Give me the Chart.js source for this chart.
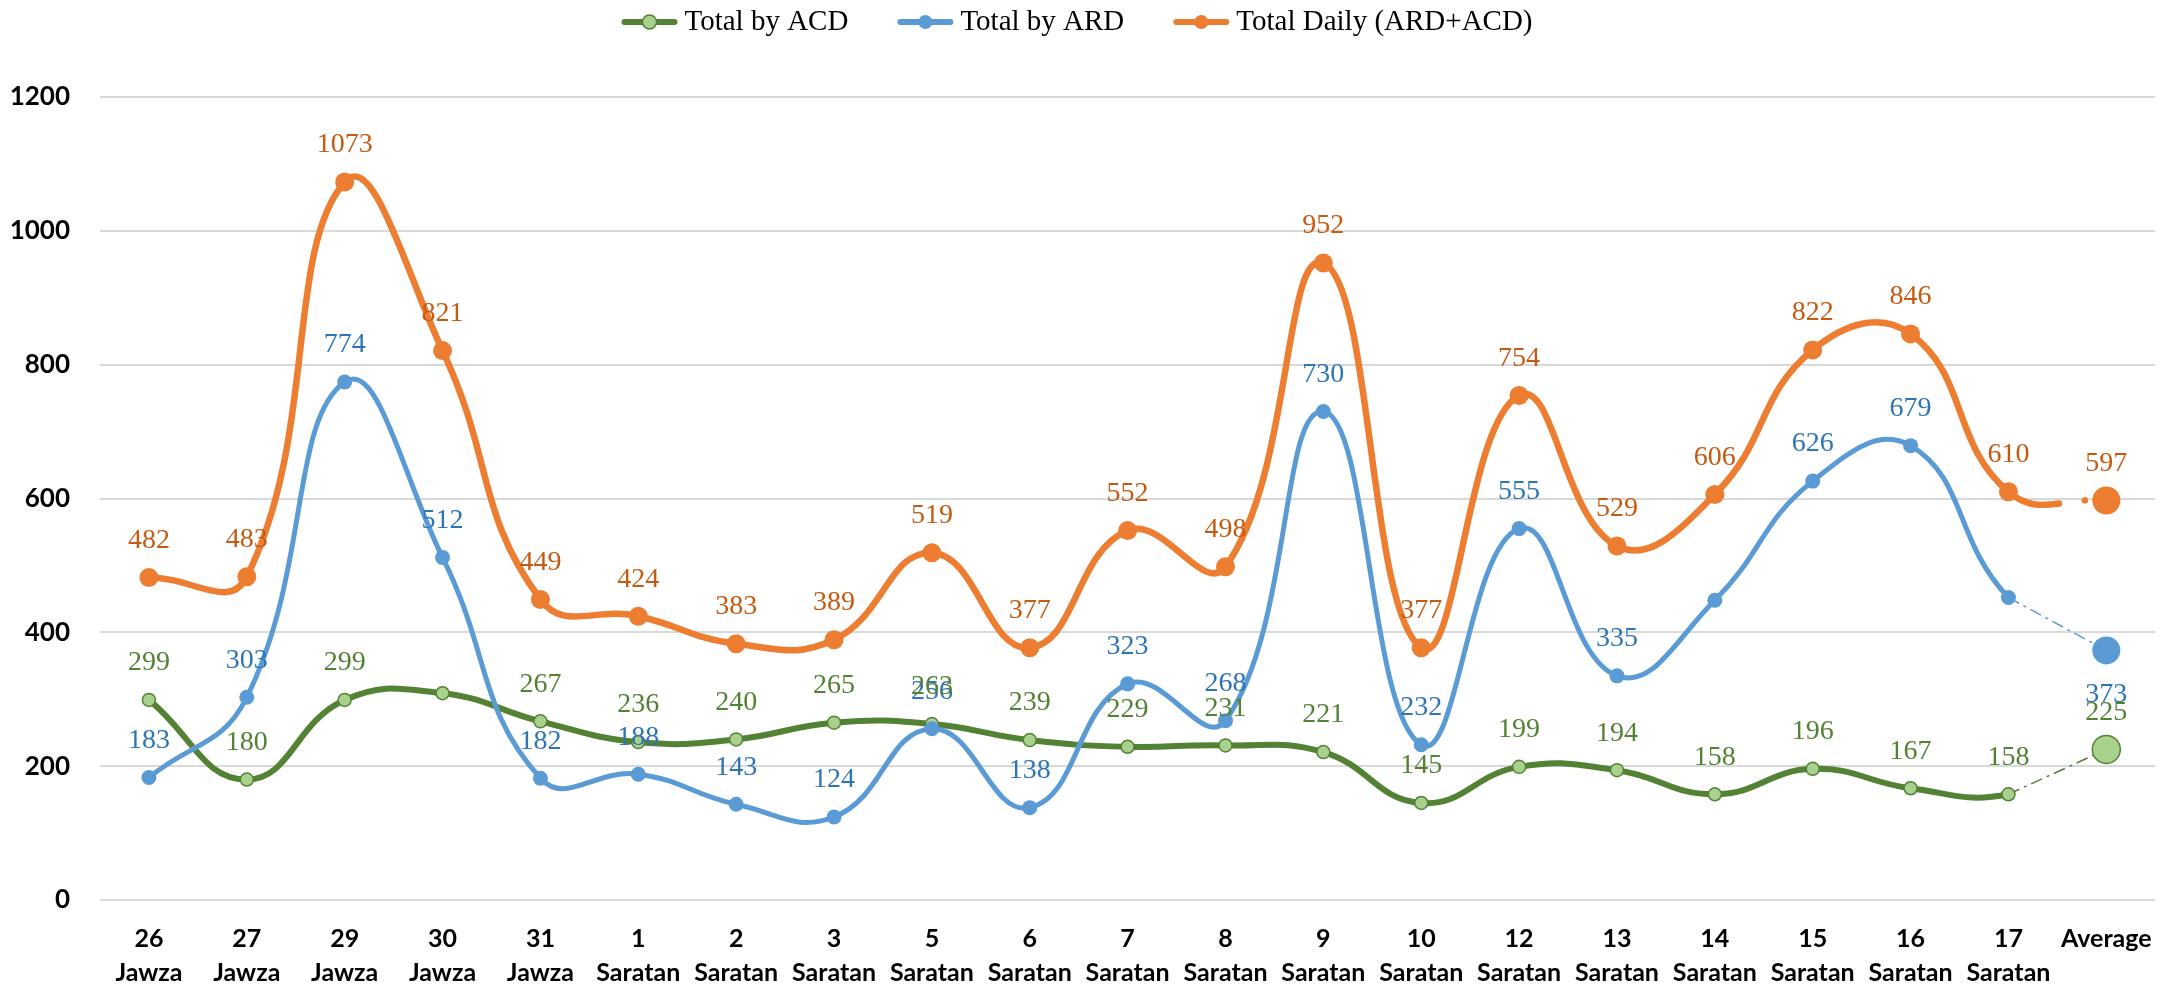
<!DOCTYPE html>
<html>
<head>
<meta charset="utf-8">
<script src="https://cdn.jsdelivr.net/npm/chart.js@4.4.0/dist/chart.umd.min.js"></script>
<style>
  html, body { margin: 0; padding: 0; background: #ffffff; }
  #wrap { width: 2174px; height: 985px; }
</style>
</head>
<body>
<div id="wrap"><canvas id="chart" width="2174" height="985"></canvas></div>
<script>
// categories (two-line tick labels)
const days = [
  ['26', 'Jawza'], ['27', 'Jawza'], ['29', 'Jawza'], ['30', 'Jawza'], ['31', 'Jawza'],
  ['1', 'Saratan'], ['2', 'Saratan'], ['3', 'Saratan'], ['5', 'Saratan'], ['6', 'Saratan'],
  ['7', 'Saratan'], ['8', 'Saratan'], ['9', 'Saratan'], ['10', 'Saratan'], ['12', 'Saratan'],
  ['13', 'Saratan'], ['14', 'Saratan'], ['15', 'Saratan'], ['16', 'Saratan'], ['17', 'Saratan'],
  ['Average']
];

// series values
const acd = [299, 180, 299, 309, 267, 236, 240, 265, 263, 239, 229, 231, 221, 145, 199, 194, 158, 196, 167, 158, 225];
const ard = [183, 303, 774, 512, 182, 188, 143, 124, 256, 138, 323, 268, 730, 232, 555, 335, 448, 626, 679, 452, 373];
const total = [482, 483, 1073, 821, 449, 424, 383, 389, 519, 377, 552, 498, 952, 377, 754, 529, 606, 822, 846, 610, 597];

// y axis ticks
const yTicks = [0, 200, 400, 600, 800, 1000, 1200];

// labels not shown in the original
const acdHidden = [3];
const ardHidden = [16, 19];

const GREEN = '#548235', GREEN_FILL = '#A9D18E';
const BLUE = '#5B9BD5', BLUE_TEXT = '#2E75B6';
const ORANGE = '#ED7D31', ORANGE_TEXT = '#C55A11';
const SERIF = '"Liberation Serif", "Times New Roman", serif';

const last = days.length - 1;

// only keep the last two points -> thin link to the average
function linkTo(values) {
  return values.map((v, i) => (i >= last - 1 ? v : null));
}

// draws the value above (or below) each point
const valueLabels = {
  id: 'valueLabels',
  afterDatasetsDraw(chart) {
    const ctx = chart.ctx;
    ctx.save();
    ctx.font = '28px ' + SERIF;
    ctx.textAlign = 'center';
    ctx.textBaseline = 'middle';
    chart.data.datasets.forEach((ds, di) => {
      if (!ds.labelColor) return;
      const meta = chart.getDatasetMeta(di);
      meta.data.forEach((pt, i) => {
        if (ds.data[i] == null || ds.hiddenLabels.includes(i)) return;
        const below = ds.below.includes(i);
        ctx.fillStyle = ds.labelColor;
        ctx.fillText(String(ds.data[i]), pt.x, pt.y + (below ? 44 : -37));
      });
    });
    ctx.restore();
  }
};

// legend row at the top: line + marker, then the series name
const topLegend = {
  id: 'topLegend',
  afterDraw(chart) {
    const ctx = chart.ctx;
    const items = ['acd', 'ard', 'total'].map((k) => chart.data.datasets.find((d) => d.key === k));
    const markW = 56, textGap = 7, itemGap = 49, y = 22;
    ctx.save();
    ctx.font = '29px ' + SERIF;
    const widths = items.map((ds) => markW + textGap + ctx.measureText(ds.label).width);
    const full = widths.reduce((a, b) => a + b, 0) + itemGap * (items.length - 1);
    let x = chart.width / 2 - 10 - full / 2;
    items.forEach((ds, i) => {
      ctx.strokeStyle = ds.borderColor;
      ctx.lineWidth = 6;
      ctx.lineCap = 'round';
      ctx.beginPath(); ctx.moveTo(x + 3, y); ctx.lineTo(x + markW - 3, y); ctx.stroke();
      ctx.beginPath(); ctx.arc(x + markW / 2, y, 7, 0, Math.PI * 2);
      ctx.fillStyle = ds.pointBackgroundColor; ctx.fill();
      if (ds.pointBorderWidth) { ctx.lineWidth = 1.5; ctx.strokeStyle = ds.pointBorderColor; ctx.stroke(); }
      ctx.fillStyle = '#000000';
      ctx.textAlign = 'left';
      ctx.textBaseline = 'middle';
      ctx.fillText(ds.label, x + markW + textGap, y);
      x += widths[i] + itemGap;
    });
    ctx.restore();
  }
};

const bigAt = (small, big) => (c) => (c.dataIndex === last ? big : small);

const chart = new Chart(document.getElementById('chart'), {
  type: 'line',
  data: {
    labels: days,
    datasets: [
      {
        key: 'total',
        label: 'Total Daily (ARD+ACD)',
        data: total,
        borderColor: ORANGE,
        backgroundColor: ORANGE,
        borderWidth: 6.5,
        pointRadius: bigAt(9.5, 14),
        pointBorderWidth: 0,
        pointBackgroundColor: ORANGE,
        tension: 0.45,
        segment: {
          borderDash: (c) => (c.p1DataIndex === last ? [54, 26, 0.1, 40] : undefined),
          borderCapStyle: (c) => (c.p1DataIndex === last ? 'round' : undefined)
        },
        labelColor: ORANGE_TEXT,
        hiddenLabels: [],
        below: []
      },
      {
        key: 'ard',
        label: 'Total by ARD',
        data: ard,
        borderColor: BLUE,
        backgroundColor: BLUE,
        borderWidth: 5,
        pointRadius: bigAt(7.5, 14),
        pointBorderWidth: 0,
        pointBackgroundColor: BLUE,
        tension: 0.45,
        segment: {
          borderColor: (c) => (c.p1DataIndex === last ? 'rgba(0,0,0,0)' : undefined)
        },
        labelColor: BLUE_TEXT,
        hiddenLabels: ardHidden,
        below: [last]
      },
      {
        key: 'acd',
        label: 'Total by ACD',
        data: acd,
        borderColor: GREEN,
        backgroundColor: GREEN_FILL,
        borderWidth: 6,
        pointRadius: bigAt(6.5, 14),
        pointBorderWidth: 1.5,
        pointBorderColor: GREEN,
        pointBackgroundColor: GREEN_FILL,
        tension: 0.45,
        segment: {
          borderColor: (c) => (c.p1DataIndex === last ? 'rgba(0,0,0,0)' : undefined)
        },
        labelColor: GREEN,
        hiddenLabels: acdHidden,
        below: []
      },
      {
        key: 'link',
        label: 'ard link',
        data: linkTo(ard),
        borderColor: BLUE,
        borderWidth: 1.5,
        borderDash: [12, 5, 3, 5],
        pointRadius: 0,
        tension: 0
      },
      {
        key: 'link',
        label: 'acd link',
        data: linkTo(acd),
        borderColor: GREEN,
        borderWidth: 1.5,
        borderDash: [12, 5, 3, 5],
        pointRadius: 0,
        tension: 0
      }
    ]
  },
  options: {
    responsive: false,
    animation: false,
    devicePixelRatio: 1,
    layout: { padding: { top: 97, right: 0, left: 0, bottom: 0 } },
    plugins: {
      tooltip: { enabled: false },
      legend: { display: false }
    },
    scales: {
      x: {
        offset: true,
        grid: { display: false, drawTicks: false },
        border: { display: false },
        ticks: {
          color: '#000000',
          padding: 22,
          autoSkip: false,
          maxRotation: 0,
          font: { family: 'Lato, "Liberation Sans", sans-serif', size: 25, weight: 'bold', lineHeight: 1.35 }
        },
        afterFit(scale) { scale.height = 85; }
      },
      y: {
        min: yTicks[0],
        max: yTicks[yTicks.length - 1],
        afterBuildTicks(scale) { scale.ticks = yTicks.map((v) => ({ value: v })); },
        grid: { color: '#D9D9D9', lineWidth: 2, drawTicks: false },
        border: { display: false },
        ticks: {
          color: '#000000',
          padding: 30,
          font: { family: 'Lato, "Liberation Sans", sans-serif', size: 26, weight: 'bold' },
          callback: (v) => String(v)
        },
        afterFit(scale) { scale.width = 100; }
      }
    }
  },
  plugins: [valueLabels, topLegend]
});
</script>
</body>
</html>
